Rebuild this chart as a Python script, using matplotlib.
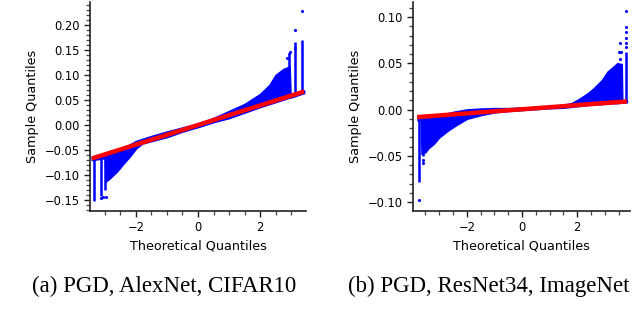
import numpy as np
import matplotlib.pyplot as plt

# (a) PGD, AlexNet, CIFAR10 -- envelope of the blue QQ cloud
a_x = [-3.42, -3.0, -2.98, -2.85, -2.6, -2.4, -2.2, -2.0, -1.8, -1.5, -1.0, -0.5,
       0.0, 0.5, 1.0, 1.5, 2.0, 2.3, 2.5, 2.75, 2.95, 2.98, 3.42]
a_hi = [-0.064, -0.056, -0.056, -0.053, -0.048, -0.044, -0.039, -0.032, -0.028, -0.022,
        -0.013, -0.005, 0.003, 0.014, 0.028, 0.042, 0.062, 0.080, 0.100, 0.112, 0.117,
        0.062, 0.069]
a_lo = [-0.070, -0.066, -0.113, -0.107, -0.092, -0.077, -0.063, -0.047, -0.037, -0.032,
        -0.024, -0.013, -0.004, 0.006, 0.014, 0.025, 0.036, 0.042, 0.046, 0.051, 0.055,
        0.055, 0.064]
a_bar_x = [-3.35, -3.13, -3.01, 2.93, 3.13, 3.36]
a_bar_lo = [-0.151, -0.142, -0.130, 0.058, 0.062, 0.066]
a_bar_hi = [-0.066, -0.062, -0.060, 0.140, 0.167, 0.170]
a_dot_x = [-3.13, -3.05, -2.98, 2.88, 2.93, 2.97, 3.13, 3.13, 3.36]
a_dot_y = [-0.145, -0.143, -0.143, 0.135, 0.142, 0.147, 0.154, 0.191, 0.229]
a_fit_x = [-3.42, 3.42]
a_fit_y = [-0.067, 0.067]

# (b) PGD, ResNet34, ImageNet
b_x = [-3.78, -3.66, -3.64, -3.5, -3.4, -3.2, -3.0, -2.7, -2.4, -2.0, -1.5, -1.0, -0.5,
       0.0, 0.5, 1.0, 1.5, 1.8, 2.1, 2.4, 2.6, 2.9, 3.1, 3.3, 3.45, 3.61, 3.63, 3.8]
b_hi = [-0.007, -0.007, -0.007, -0.0065, -0.006, -0.0055, -0.005, -0.004, -0.002, 0.000,
        0.001, 0.0015, 0.0015, 0.002, 0.0025, 0.0035, 0.005, 0.007, 0.012, 0.018, 0.023,
        0.032, 0.041, 0.046, 0.050, 0.049, 0.010, 0.010]
b_lo = [-0.012, -0.012, -0.048, -0.046, -0.042, -0.037, -0.030, -0.023, -0.017, -0.010,
        -0.006, -0.003, -0.0015, -0.0005, 0.0005, 0.0015, 0.002, 0.003, 0.004, 0.005,
        0.0055, 0.006, 0.0065, 0.007, 0.007, 0.0075, 0.0075, 0.008]
b_bar_x = [-3.72, -3.60, 3.77]
b_bar_lo = [-0.078, -0.050, 0.008]
b_bar_hi = [-0.012, -0.012, 0.0625]
b_dot_x = [-3.72, -3.60, -3.60, 3.50, 3.55, 3.58, 3.55, 3.77, 3.77, 3.77, 3.77, 3.77, 3.77]
b_dot_y = [-0.098, -0.055, -0.058, 0.0625, 0.0716, 0.0625, 0.055, 0.068, 0.0722, 0.0778,
           0.0835, 0.0895, 0.107]
b_fit_x = [-3.8, 3.8]
b_fit_y = [-0.0082, 0.0088]

captions = ["(a) PGD, AlexNet, CIFAR10", "(b) PGD, ResNet34, ImageNet"]

fig = plt.figure(figsize=(6.4, 3.2), dpi=100)
ax_a = fig.add_axes([0.1406, 0.3406, 0.3375, 0.653])
ax_b = fig.add_axes([0.6453, 0.3406, 0.339, 0.653])

panels = [
    (ax_a, a_x, a_lo, a_hi, a_bar_x, a_bar_lo, a_bar_hi, a_dot_x, a_dot_y, a_fit_x, a_fit_y),
    (ax_b, b_x, b_lo, b_hi, b_bar_x, b_bar_lo, b_bar_hi, b_dot_x, b_dot_y, b_fit_x, b_fit_y),
]

for ax, x, lo, hi, bx, blo, bhi, dx, dy, fx, fy in panels:
    ax.fill_between(x, lo, hi, color='#0000ff', lw=1.2, edgecolor='#0000ff')
    ax.vlines(bx, blo, bhi, color='#0000ff', lw=1.8)
    ax.scatter(dx, dy, s=5, color='#0000ff', lw=0)
    ax.plot(fx, fy, color='#ff0000', lw=3.2, solid_capstyle='butt')
    ax.spines['top'].set_visible(False)
    ax.spines['right'].set_visible(False)
    for s in ['left', 'bottom']:
        ax.spines[s].set_linewidth(1.2)
        ax.spines[s].set_color('#222222')
    ax.set_xticks([-2, 0, 2])
    ax.set_xticks(np.arange(-3.5, 4.0, 0.5), minor=True)
    ax.tick_params(which='major', labelsize=8.3, length=4, width=1.0, color='#222222')
    ax.tick_params(which='minor', length=3, width=0.9, color='#444444')
    ax.set_xlabel('Theoretical Quantiles', fontsize=9.2)
    ax.set_ylabel('Sample Quantiles', fontsize=9.2)

ax_a.set_xlim(-3.48, 3.48)
ax_a.set_ylim(-0.172, 0.246)
ax_a.set_yticks(np.arange(-0.15, 0.21, 0.05))
ax_a.set_yticks(np.arange(-0.17, 0.25, 0.01), minor=True)

ax_b.set_xlim(-3.95, 3.91)
ax_b.set_ylim(-0.1097, 0.1162)
ax_b.set_yticks(np.arange(-0.10, 0.11, 0.05))
ax_b.set_yticks(np.arange(-0.10, 0.12, 0.01), minor=True)

fig.text(0.05, 0.0875, captions[0], fontsize=16.5, family='Liberation Serif', va='baseline')
fig.text(0.544, 0.0875, captions[1], fontsize=16.5, family='Liberation Serif', va='baseline')

fig.savefig('out.png', dpi=100)
